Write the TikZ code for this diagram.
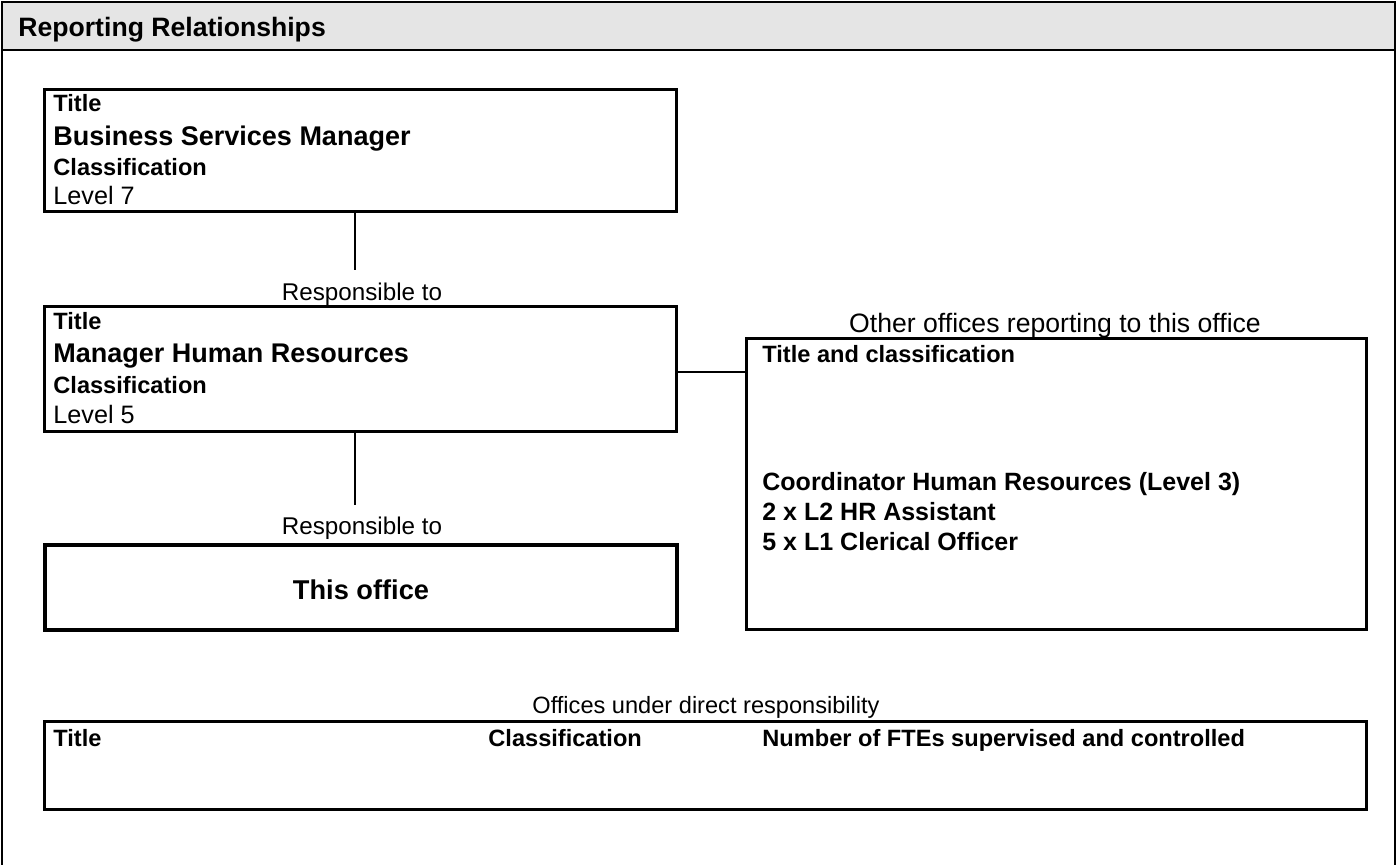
\documentclass[tikz,border=0pt]{standalone}
\usepackage{fontspec}
\setmainfont{Liberation Sans}
\begin{document}
\begin{tikzpicture}[x=0.5pt,y=-0.5pt,
  frameline/.style={line width=1.3pt},
  box/.style={draw, line width=1.3pt, inner sep=0pt, anchor=north west},
  heavybox/.style={draw, line width=2pt, inner sep=0pt, anchor=north west},
  tablebox/.style={draw, line width=1.6pt, inner sep=0pt, anchor=north west},
  link/.style={line width=1pt},
  txt/.style={inner sep=0pt, anchor=mid west},
  headtxt/.style={font=\fontsize{13.3}{15}\selectfont\bfseries},
  lbltxt/.style={font=\fontsize{11.8}{14}\selectfont\bfseries},
  nametxt/.style={font=\fontsize{13.5}{16}\selectfont\bfseries},
  valtxt/.style={font=\fontsize{12.6}{15}\selectfont},
  captxt/.style={inner sep=0pt, anchor=mid, font=\fontsize{12.1}{14}\selectfont},
  itemtxt/.style={font=\fontsize{12.5}{15}\selectfont\bfseries}
]
\useasboundingbox (0,0) rectangle (1397,865);

% page frame with grey heading band
\fill[gray!20] (2,2) rectangle (1395,50);
\draw[frameline] (2,865) -- (2,2) -- (1395,2) -- (1395,865);
\draw[frameline] (2,50) -- (1395,50);
\node[txt, headtxt] (heading) at (18,31) {Reporting Relationships};

% superior office
\node[box, minimum width=316pt, minimum height=61pt] (b1) at (43,88) {};
\node[txt, lbltxt]  (b1t) at (53,106) {Title};
\node[txt, nametxt] (b1n) at (53,140) {Business Services Manager};
\node[txt, lbltxt]  (b1c) at (53,170) {Classification};
\node[txt, valtxt]  (b1l) at (53,199) {Level 7};

\node[captxt] (r1) at (362,295) {Responsible to};

% immediate manager
\node[box, minimum width=316pt, minimum height=62.5pt] (b2) at (43,305) {};
\node[txt, lbltxt]  (b2t) at (53,324) {Title};
\node[txt, nametxt] (b2n) at (53,357) {Manager Human Resources};
\node[txt, lbltxt]  (b2c) at (53,388) {Classification};
\node[txt, valtxt]  (b2l) at (53,418) {Level 5};

\node[captxt] (r2) at (362,529) {Responsible to};

% this office
\node[heavybox, minimum width=316pt, minimum height=42.5pt] (b3) at (43,543) {};
\node[inner sep=0pt, font=\fontsize{13.6}{16}\selectfont\bfseries] (b3n) at ([yshift=-1pt]b3.center) {This office};

% other offices reporting
\node[captxt, font=\fontsize{13.3}{16}\selectfont] (r3) at (1055,327) {Other offices reporting to this office};
\node[box, minimum width=310pt, minimum height=145.5pt] (b4) at (745,337) {};
\node[txt, lbltxt]  (b4t) at (762,357) {Title and classification};
\node[txt, itemtxt] (b4a) at (762,485) {Coordinator Human Resources (Level 3)};
\node[txt, itemtxt] (b4b) at (762,515) {2 x L2 HR Assistant};
\node[txt, itemtxt] (b4c) at (762,545) {5 x L1 Clerical Officer};

% offices under direct responsibility
\node[captxt, font=\fontsize{11.8}{14}\selectfont] (r4) at (706,708) {Offices under direct responsibility};
\node[tablebox, minimum width=661pt, minimum height=44pt] (b5) at (43,720) {};
\node[txt, lbltxt] (b5a) at (53,741) {Title};
\node[txt, lbltxt] (b5b) at (488,741) {Classification};
\node[txt, lbltxt] (b5c) at (762,741) {Number of FTEs supervised and controlled};

% connectors
\coordinate (e1) at (355,270);
\coordinate (e2) at (355,505);
\coordinate (hy) at (0,372);
\draw[link] (b1.south -| e1) -- (e1);
\draw[link] (b2.south -| e2) -- (e2);
\draw[link] (b2.east |- hy) -- (b4.west |- hy);
\end{tikzpicture}
\end{document}
